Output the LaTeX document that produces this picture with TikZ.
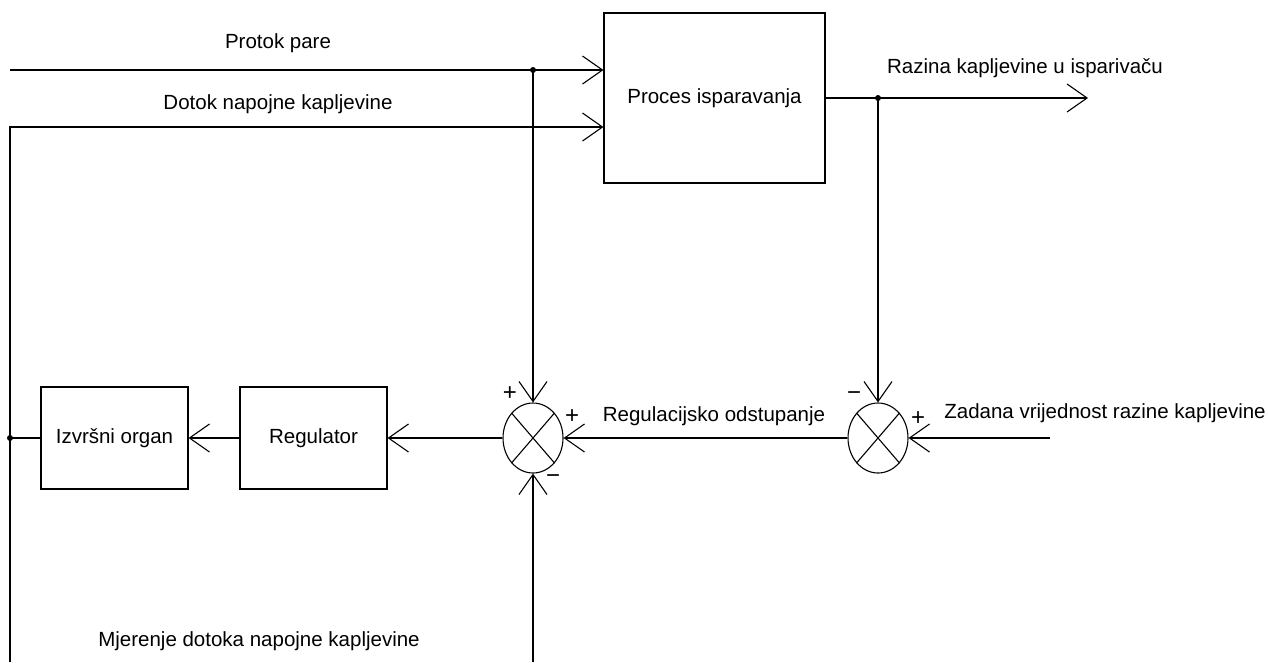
\documentclass[tikz,border=0pt]{standalone}
\usepackage{fontspec}
\setmainfont{Liberation Sans}
\usetikzlibrary{arrows.meta,shapes.geometric}
\begin{document}
\begin{tikzpicture}[x=1pt,y=-1pt,
  line width=1.1pt,
  every node/.style={font=\fontsize{20.5}{24}\selectfont},
  blk/.style={draw, rectangle, inner sep=0pt},
  arr/.style={-{Straight Barb[length=20pt,width=28pt,line width=1.1pt]}},
  dot/.style={circle, fill, inner sep=0pt, minimum size=6pt},
  sgn/.style={font=\fontsize{24}{26}\selectfont, inner sep=0pt}]
\useasboundingbox (0,0) rectangle (1268,662);
% blocks
\node[blk, minimum width=221pt, minimum height=170pt] (proc) at (714.5,98) {Proces isparavanja};
\node[blk, minimum width=147pt, minimum height=102pt] (reg) at (313.5,438) {Regulator};
\node[blk, minimum width=147pt, minimum height=102pt] (izv) at (114.5,438) {Izvršni organ};
% summing junctions
\node[draw, ellipse, minimum width=60pt, minimum height=70pt, inner sep=0pt] (s1) at (533,438) {};
\node[draw, ellipse, minimum width=60pt, minimum height=70pt, inner sep=0pt] (s2) at (878,438) {};
\foreach \s in {s1,s2} {
  \draw (\s.north west) -- (\s.south east);
  \draw (\s.north east) -- (\s.south west);
}
% coordinates
\coordinate (pin) at (10,70);
\coordinate (d1) at (533,70);
\coordinate (qin) at (10,662);
\coordinate (qc) at (10,127);
\coordinate (d2) at (878,98);
\coordinate (out) at (1088,98);
\coordinate (ref) at (1050,438);
\coordinate (meas) at (533,662);
\coordinate (d3) at (10,438);
% connectors
\draw[arr] (pin) -- (proc.west |- pin);
\node[dot] at (d1) {};
\draw[arr] (qin) -- (qc) -- (proc.west |- qc);
\draw[arr] (proc.east |- d2) -- (out);
\node[dot] at (d2) {};
\draw[arr] (d2) -- (s2.north);
\draw[arr] (d1) -- (s1.north);
\draw[arr] (ref) -- (s2.east);
\draw[arr] (s2.west) -- (s1.east);
\draw[arr] (meas) -- (s1.south);
\draw[arr] (s1.west) -- (reg.east);
\draw[arr] (reg.west) -- (izv.east);
\draw (izv.west) -- (d3);
\node[dot] at (d3) {};
% labels
\node at (278,43) {Protok pare};
\node at (278,104) {Dotok napojne kapljevine};
\node at (1025,68) {Razina kapljevine u isparivaču};
\node at (714,416) {Regulacijsko odstupanje};
\node at (1105,413) {Zadana vrijednost razine kapljevine};
\node at (259,641) {Mjerenje dotoka napojne kapljevine};
% signs
\node[sgn] at (510,394) {+};
\node[sgn] at (572,417) {+};
\node[sgn] at (553,479) {\textminus};
\node[sgn] at (854,396) {\textminus};
\node[sgn] at (918,419) {+};
\end{tikzpicture}
\end{document}
